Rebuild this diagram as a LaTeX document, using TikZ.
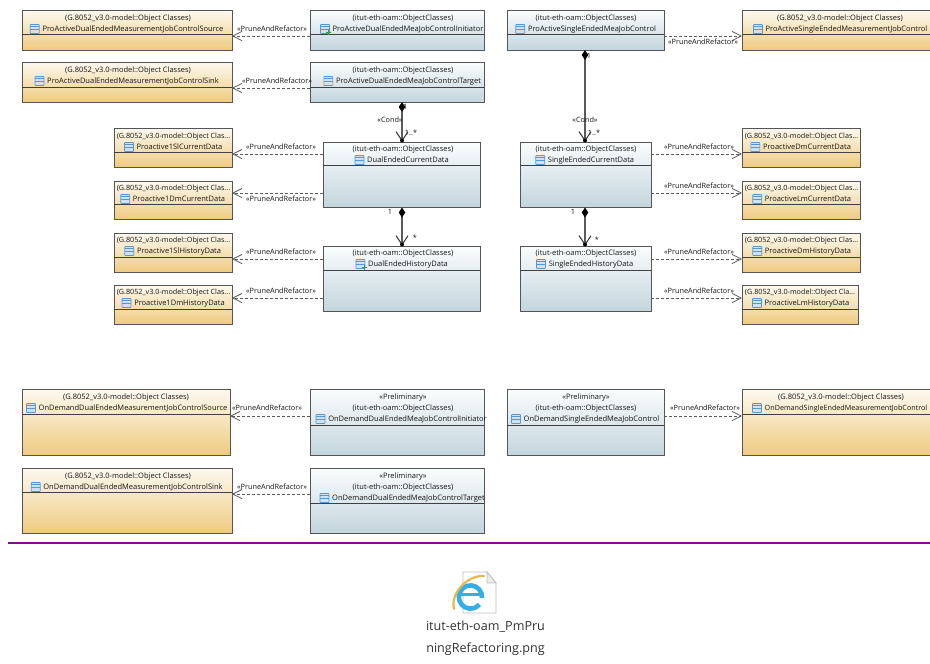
\documentclass[tikz,border=0pt]{standalone}
\usepackage{fontspec}
\setmainfont{Open Sans}
\newfontfamily\filefont{Open Sans}
\usetikzlibrary{arrows.meta}
\definecolor{blueTop}{HTML}{FBFDFD}
\definecolor{blueBot}{HTML}{C3D5DD}
\definecolor{orTop}{HTML}{FDF9F0}
\definecolor{orBot}{HTML}{EFCB80}
\definecolor{edgeCol}{HTML}{555555}
\definecolor{connCol}{HTML}{5A5A5A}
\definecolor{txtCol}{HTML}{151515}
\definecolor{purpleRule}{HTML}{80108A}
\definecolor{iconFill}{HTML}{CFE1F3}
\definecolor{iconLine}{HTML}{5C97CC}
\definecolor{plusCol}{HTML}{2E9E50}
\definecolor{ieBlue}{HTML}{35AEE8}
\definecolor{ieGold}{HTML}{E8B84A}
\tikzset{
  x=1pt,y=-1pt,
  itutbox/.style={draw=edgeCol,line width=0.9pt,inner sep=0pt,top color=blueTop,bottom color=blueBot},
  gbox/.style={draw=edgeCol,line width=0.9pt,inner sep=0pt,top color=orTop,bottom color=orBot},
  divider/.style={draw=black!75,line width=0.7pt},
  cls/.style={font=\fontsize{7.5}{9}\selectfont,text=txtCol,inner sep=0pt,text height=5.8pt,text depth=1.8pt},
  clssmall/.style={cls,font=\fontsize{7.2}{9}\selectfont},
  lbl/.style={font=\fontsize{7.3}{9}\selectfont,text=txtCol,inner sep=0pt,text height=5.8pt,text depth=1.8pt},
  dep/.style={draw=connCol,line width=0.8pt,dash pattern=on 3pt off 2pt,-{Straight Barb[length=9pt,width=9pt,line width=0.8pt,round,connCol]}},
  compo/.style={draw=connCol,line width=1.1pt,{Diamond[length=10pt,width=6.5pt,black]}-{Straight Barb[length=9pt,width=12pt,line width=1pt,black!80]}},
  dot/.style={fill=black},
  iconbox/.style={draw=iconLine,fill=iconFill,line width=0.7pt,rounded corners=0.6pt},
  iconbar/.style={draw=iconLine,line width=0.6pt},
  plus/.style={draw=plusCol,line width=1.1pt},
  filename/.style={font=\filefont\fontsize{12.6}{14}\selectfont,text=black!80,inner sep=0pt}
}
% box: id, x1, y1, x2, y2, divider y, style
\newcommand{\umlbox}[7]{%
  \node[#7,minimum width={(#4-#2)*1pt},minimum height={(#5-#3)*1pt}] (#1) at ({(#2+#4)/2},{(#3+#5)/2}) {};
  \draw[divider] (#1.west |- 0,#6) -- (#1.east |- 0,#6);
}
% class line: id, cx, y, text
\newcommand{\umltxt}[4]{\node[cls] (#1) at (#2,#3) {#4};}
\newcommand{\umlsmall}[4]{\node[clssmall] (#1) at (#2,#3) {#4};}
% name with icon: id, cx, y, text
\newcommand{\umlicon}[1]{%
  \draw[iconbox] ([xshift=-12pt,yshift=-4.5pt]#1.west) rectangle ([xshift=-3pt,yshift=4.5pt]#1.west);
  \draw[iconbar] ([xshift=-12pt,yshift=0pt]#1.west) -- ([xshift=-3pt,yshift=0pt]#1.west);
  \draw[iconbar] ([xshift=-12pt,yshift=2.5pt]#1.west) -- ([xshift=-3pt,yshift=2.5pt]#1.west);
}
\newcommand{\umlname}[4]{%
  \node[cls] (#1) at (#2,#3) {#4};
  \umlicon{#1}
}
\newcommand{\umlnamesmall}[4]{%
  \node[clssmall] (#1) at (#2,#3) {#4};
  \umlicon{#1}
}
\newcommand{\plusmark}[1]{%
  \draw[plus] ([xshift=-6pt,yshift=-3.5pt]#1.west) -- ([xshift=-1pt,yshift=-3.5pt]#1.west);
  \draw[plus] ([xshift=-3.5pt,yshift=-6pt]#1.west) -- ([xshift=-3.5pt,yshift=-1pt]#1.west);
}
\begin{document}
\begin{tikzpicture}
\useasboundingbox (0,0) rectangle (930,664);
\clip (0,0) rectangle (930,664);
\fill[white] (0,0) rectangle (930,664);

\def\GC{(G.8052\_v3.0-model::Object Classes)}
\def\GS{(G.8052\_v3.0-model::Object Clas...}
\def\IT{(itut-eth-oam::ObjectClasses)}
\def\PR{«Preliminary»}
\def\PF{«PruneAndRefactor»}

% top row
\umlbox{a}{22}{10}{232}{50}{34}{gbox}
\umltxt{a1}{128}{18}{\GC}
\umlname{a2}{133}{29}{ProActiveDualEndedMeasurementJobControlSource}
\umlbox{b}{310}{10}{484}{50}{34}{itutbox}
\umltxt{b1}{403}{18}{\IT}
\umlname{b2}{408}{29}{ProActiveDualEndedMeaJobControlInitiator}
\umlbox{c}{22}{62}{232}{102}{87}{gbox}
\umltxt{c1}{128}{70}{\GC}
\umlname{c2}{133}{81}{ProActiveDualEndedMeasurementJobControlSink}
\umlbox{d}{310}{62}{484}{102}{87}{itutbox}
\umltxt{d1}{403}{70}{\IT}
\umlname{d2}{408.5}{81}{ProActiveDualEndedMeaJobControlTarget}
\umlbox{e}{507}{10}{664}{50}{34}{itutbox}
\umltxt{e1}{586}{18}{\IT}
\umlname{e2}{592}{29}{ProActiveSingleEndedMeaJobControl}
\umlbox{f}{742}{10}{960}{50}{34}{gbox}
\umltxt{f1}{840}{18}{\GC}
\umlname{f2}{846.5}{29}{ProActiveSingleEndedMeasurementJobControl}

% dual ended
\umlbox{dc}{323}{142}{480}{207}{165}{itutbox}
\umltxt{dc1}{403}{149}{\IT}
\umlname{dc2}{408}{160}{DualEndedCurrentData}
\umlbox{dh}{323}{246}{480}{311}{270}{itutbox}
\umltxt{dh1}{403}{253}{\IT}
\umlname{dh2}{408}{264}{DualEndedHistoryData}
% single ended
\umlbox{sc}{520}{142}{651}{207}{165}{itutbox}
\umltxt{sc1}{586}{149}{\IT}
\umlname{sc2}{591}{160}{SingleEndedCurrentData}
\umlbox{sh}{520}{246}{651}{311}{270}{itutbox}
\umltxt{sh1}{586}{253}{\IT}
\umlname{sh2}{591}{264}{SingleEndedHistoryData}

% left small
\umlbox{l1}{114}{128}{232}{167}{152}{gbox}
\umlsmall{l1a}{173.5}{136}{\GS}
\umlname{l1b}{179.5}{147}{Proactive1SlCurrentData}
\umlbox{l2}{114}{181}{232}{219}{204}{gbox}
\umlsmall{l2a}{173.5}{188}{\GS}
\umlname{l2b}{179}{199}{Proactive1DmCurrentData}
\umlbox{l3}{114}{233}{232}{272}{257}{gbox}
\umlsmall{l3a}{173.5}{240}{\GS}
\umlname{l3b}{179}{251}{Proactive1SlHistoryData}
\umlbox{l4}{114}{285}{232}{324}{309}{gbox}
\umlsmall{l4a}{173.5}{292}{\GS}
\umlname{l4b}{179.5}{303}{Proactive1DmHistoryData}

% right small
\umlbox{r1}{742}{128}{860}{167}{152}{gbox}
\umlsmall{r1a}{801.5}{136}{\GS}
\umlname{r1b}{807}{147}{ProactiveDmCurrentData}
\umlbox{r2}{742}{181}{860}{219}{204}{gbox}
\umlsmall{r2a}{801.5}{188}{\GS}
\umlname{r2b}{808}{199}{ProactiveLmCurrentData}
\umlbox{r3}{742}{233}{860}{272}{257}{gbox}
\umlsmall{r3a}{801.5}{240}{\GS}
\umlname{r3b}{808}{251}{ProactiveDmHistoryData}
\umlbox{r4}{742}{285}{858}{324}{309}{gbox}
\umlsmall{r4a}{800}{292}{(G.8052\_v3.0-model::Object Cla...}
\umlname{r4b}{807}{303}{ProactiveLmHistoryData}

% bottom
\umlbox{a3}{22}{389}{230}{455}{414}{gbox}
\umltxt{a3a}{126}{397}{\GC}
\umlname{a3b}{133}{408}{OnDemandDualEndedMeasurementJobControlSource}
\umlbox{b3}{310}{389}{484}{455}{425}{itutbox}
\umltxt{b3p}{403}{397}{\PR}
\umltxt{b3a}{403}{408}{\IT}
\umlname{b3b}{407.5}{419}{OnDemandDualEndedMeaJobControlInitiator}
\umlbox{c3}{22}{468}{232}{533}{492}{gbox}
\umltxt{c3a}{128}{476}{\GC}
\umlname{c3b}{133}{487}{OnDemandDualEndedMeasurementJobControlSink}
\umlbox{d3}{310}{468}{484}{533}{503}{itutbox}
\umltxt{d3p}{403}{476}{\PR}
\umltxt{d3a}{403}{487}{\IT}
\umlname{d3b}{408.5}{498}{OnDemandDualEndedMeaJobControlTarget}
\umlbox{e3}{507}{389}{664}{455}{425}{itutbox}
\umltxt{e3p}{586}{397}{\PR}
\umltxt{e3a}{586}{408}{\IT}
\umlname{e3b}{591.5}{419}{OnDemandSingleEndedMeaJobControl}
\umlbox{f3}{742}{389}{960}{455}{414}{gbox}
\umltxt{f3a}{841}{397}{\GC}
\umlnamesmall{f3b}{846}{408}{OnDemandSingleEndedMeasurementJobControl}

% green plus overlays
\plusmark{b2}
\plusmark{dh2}

% dependencies
\draw[dep] (b.west |- 0,36) -- (a.east |- 0,36);
\node[lbl] (p1) at (272,29) {\PF};
\draw[dep] (d.west |- 0,88) -- (c.east |- 0,88);
\node[lbl] (p2) at (277,81) {\PF};
\draw[dep] (e.east |- 0,36) -- (f.west |- 0,36);
\node[lbl] (p3) at (703,42) {\PF};
\draw[dep] (dc.west |- 0,154) -- (l1.east |- 0,154);
\node[lbl] (p4) at (281,147) {\PF};
\draw[dep] (dc.west |- 0,193) -- (l2.east |- 0,193);
\node[lbl] (p5) at (281,199) {\PF};
\draw[dep] (dh.west |- 0,259) -- (l3.east |- 0,259);
\node[lbl] (p6) at (281,252) {\PF};
\draw[dep] (dh.west |- 0,298) -- (l4.east |- 0,298);
\node[lbl] (p7) at (281,291) {\PF};
\draw[dep] (sc.east |- 0,154) -- (r1.west |- 0,154);
\node[lbl] (p8) at (699,147) {\PF};
\draw[dep] (sc.east |- 0,193) -- (r2.west |- 0,193);
\node[lbl] (p9) at (699,186) {\PF};
\draw[dep] (sh.east |- 0,259) -- (r3.west |- 0,259);
\node[lbl] (p10) at (699,252) {\PF};
\draw[dep] (sh.east |- 0,298) -- (r4.west |- 0,298);
\node[lbl] (p11) at (699,291) {\PF};
\draw[dep] (b3.west |- 0,416) -- (a3.east |- 0,416);
\node[lbl] (p12) at (267,408) {\PF};
\draw[dep] (d3.west |- 0,494) -- (c3.east |- 0,494);
\node[lbl] (p13) at (272,487) {\PF};
\draw[dep] (e3.east |- 0,416) -- (f3.west |- 0,416);
\node[lbl] (p14) at (705,408) {\PF};

% compositions
\draw[compo] (402,102) -- (dc.north -| 402,0);
\draw[compo] (402,207.5) -- (dh.north -| 402,0);
\draw[compo] (585,50) -- (sc.north -| 585,0);
\draw[compo] (585,207.5) -- (sh.north -| 585,0);
\fill[dot] (402,140.5) circle (2);
\fill[dot] (402,244.5) circle (2);
\fill[dot] (585,140.5) circle (2);
\fill[dot] (585,244.5) circle (2);
\node[lbl] (m1) at (405.5,107) {1};
\node[lbl] (c1x) at (390,120.5) {«Cond»};
\node[lbl] (m2) at (411,133.5) {1..*};
\node[lbl] (m3) at (390,212) {1};
\node[lbl] (m4) at (415,238.5) {*};
\node[lbl] (m5) at (589,56) {1};
\node[lbl] (c2x) at (585,120.5) {«Cond»};
\node[lbl] (m6) at (594,133.5) {1..*};
\node[lbl] (m7) at (573,212) {1};
\node[lbl] (m8) at (597,240) {*};

% rule
\coordinate (ruleA) at (8,543);
\coordinate (ruleB) at (930,543);
\draw[purpleRule,line width=2pt] (ruleA) -- (ruleB);

% file icon
\draw[black!25,fill=white,line width=0.8pt] (463,572) -- (487,572) -- (496,583) -- (496,613) -- (463,613) -- cycle;
\draw[black!25,fill=black!8,line width=0.8pt] (487,572) -- (487,583) -- (496,583) -- cycle;
\draw[ieBlue,line width=4.6pt] (482,598) arc (5:-320:11.6);
\draw[ieBlue,line width=3.5pt] (459.5,594.5) -- (481,594.5);
\draw[ieGold,line width=2.2pt,line cap=round] (454,609) .. controls (450,595) and (466,575) .. (484,576);
\node[filename] (file1) at (485.5,627) {itut-eth-oam\_PmPru};
\node[filename] (file2) at (485.5,649) {ningRefactoring.png};
\end{tikzpicture}
\end{document}
